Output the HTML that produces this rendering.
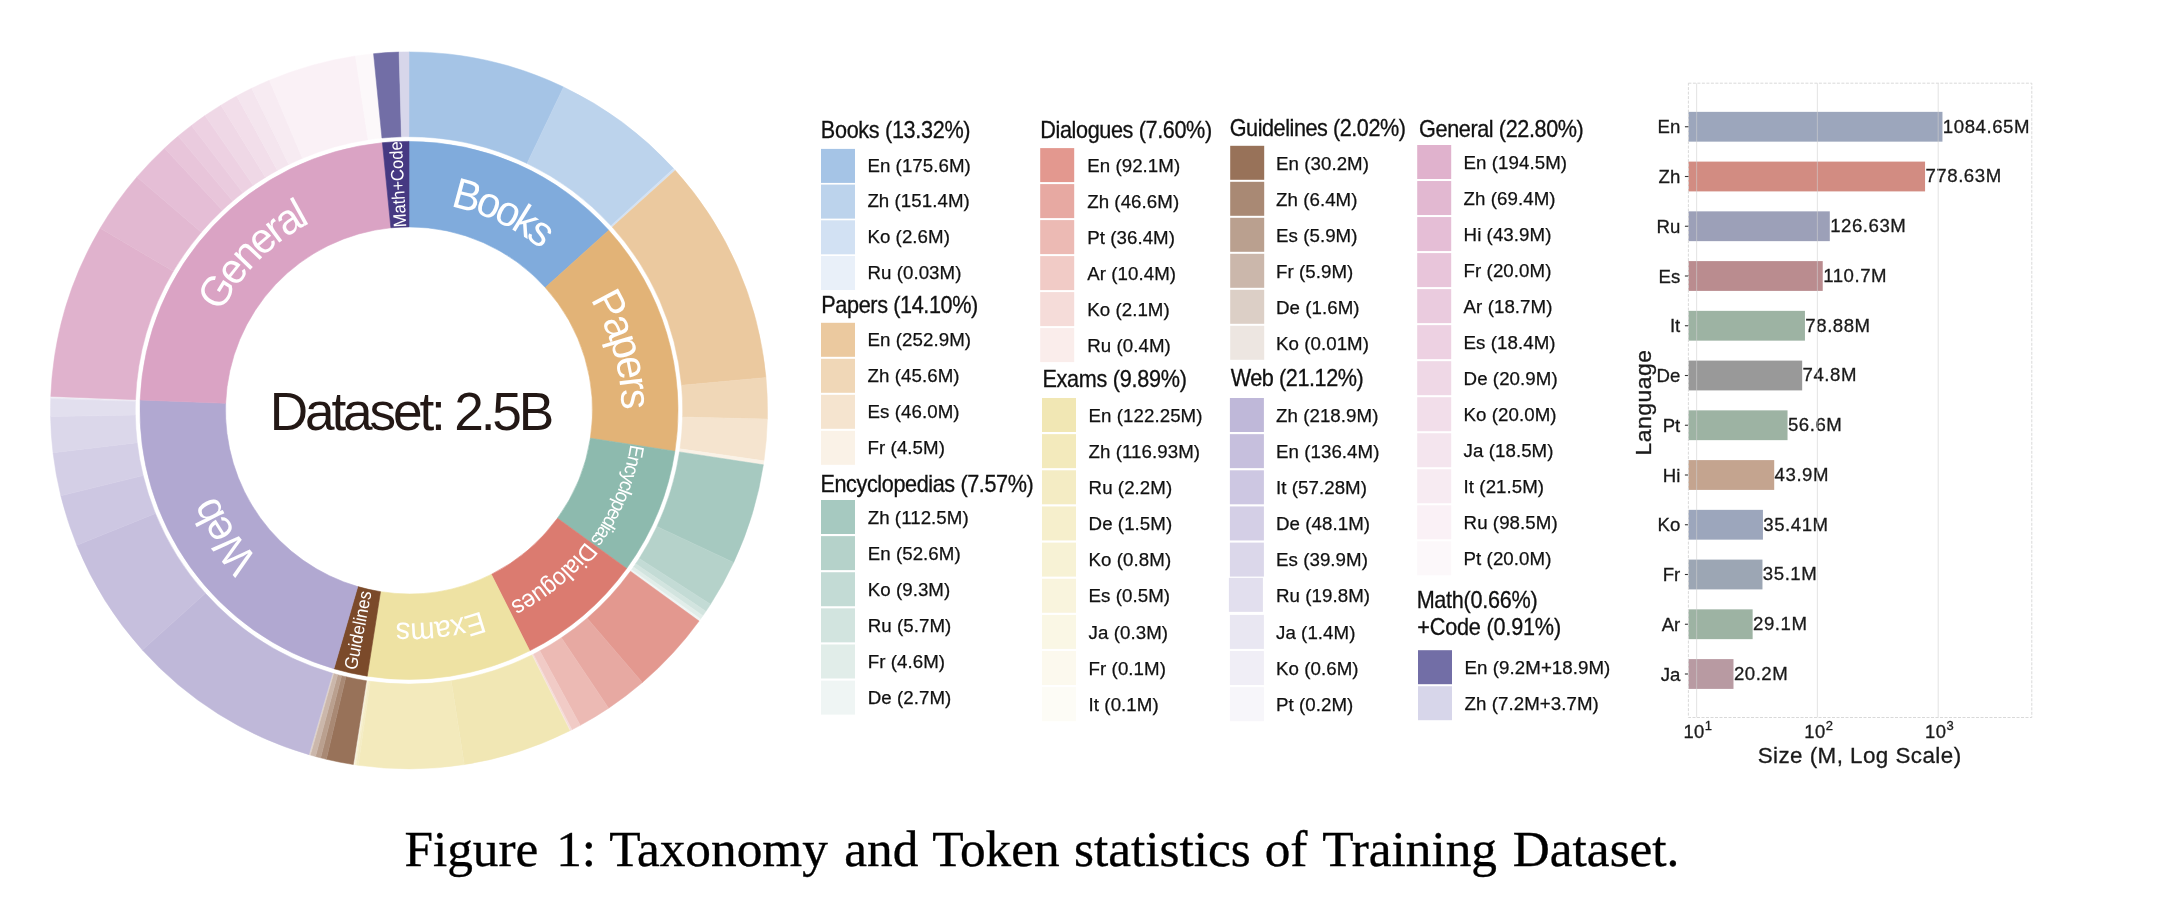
<!DOCTYPE html>
<html><head><meta charset="utf-8"><title>Figure 1</title>
<style>html,body{margin:0;padding:0;background:#fff}svg{display:block;will-change:transform}text{font-family:"Liberation Sans",sans-serif}</style>
</head><body>
<svg width="2167" height="901" viewBox="0 0 2167 901">
<rect width="2167" height="901" fill="#fff"/>
<path d="M409.00,141.40A269.0,269.0 0 0 1 608.76,230.24L545.27,287.50A183.5,183.5 0 0 0 409.00,226.90Z" fill="#80ABDC" stroke="#80ABDC" stroke-width="0.6"/>
<path d="M409.00,51.90A358.5,358.5 0 0 1 563.60,86.95L527.03,163.46A273.7,273.7 0 0 0 409.00,136.70Z" fill="#A5C4E6" stroke="#A5C4E6" stroke-width="0.5"/>
<path d="M563.60,86.95A358.5,358.5 0 0 1 673.62,168.53L611.02,225.74A273.7,273.7 0 0 0 527.03,163.46Z" fill="#BCD3EC" stroke="#BCD3EC" stroke-width="0.5"/>
<path d="M673.62,168.53A358.5,358.5 0 0 1 675.21,170.28L612.24,227.08A273.7,273.7 0 0 0 611.02,225.74Z" fill="#D2E1F3" stroke="#D2E1F3" stroke-width="0.5"/>
<path d="M675.21,170.28A358.5,358.5 0 0 1 675.22,170.30L612.25,227.10A273.7,273.7 0 0 0 612.24,227.08Z" fill="#E9F0F9" stroke="#E9F0F9" stroke-width="0.5"/>
<path d="M608.76,230.24A269.0,269.0 0 0 1 674.89,451.21L590.38,438.24A183.5,183.5 0 0 0 545.27,287.50Z" fill="#E2B377" stroke="#E2B377" stroke-width="0.6"/>
<path d="M675.22,170.30A358.5,358.5 0 0 1 765.99,377.57L681.55,385.33A273.7,273.7 0 0 0 612.25,227.10Z" fill="#EBC99F" stroke="#EBC99F" stroke-width="0.5"/>
<path d="M765.99,377.57A358.5,358.5 0 0 1 767.40,419.03L682.62,416.99A273.7,273.7 0 0 0 681.55,385.33Z" fill="#F0D7B7" stroke="#F0D7B7" stroke-width="0.5"/>
<path d="M767.40,419.03A358.5,358.5 0 0 1 763.95,460.73L679.99,448.83A273.7,273.7 0 0 0 682.62,416.99Z" fill="#F5E4CF" stroke="#F5E4CF" stroke-width="0.5"/>
<path d="M763.95,460.73A358.5,358.5 0 0 1 763.35,464.79L679.53,451.92A273.7,273.7 0 0 0 679.99,448.83Z" fill="#FAF2E7" stroke="#FAF2E7" stroke-width="0.5"/>
<path d="M674.89,451.21A269.0,269.0 0 0 1 626.66,568.47L557.48,518.23A183.5,183.5 0 0 0 590.38,438.24Z" fill="#8DBAAE" stroke="#8DBAAE" stroke-width="0.6"/>
<path d="M763.35,464.79A358.5,358.5 0 0 1 733.67,562.43L656.87,526.47A273.7,273.7 0 0 0 679.53,451.92Z" fill="#A6C9C0" stroke="#A6C9C0" stroke-width="0.5"/>
<path d="M733.67,562.43A358.5,358.5 0 0 1 710.53,604.31L639.21,558.44A273.7,273.7 0 0 0 656.87,526.47Z" fill="#B5D2CA" stroke="#B5D2CA" stroke-width="0.5"/>
<path d="M710.53,604.31A358.5,358.5 0 0 1 705.87,611.37L635.65,563.84A273.7,273.7 0 0 0 639.21,558.44Z" fill="#C3DBD5" stroke="#C3DBD5" stroke-width="0.5"/>
<path d="M705.87,611.37A358.5,358.5 0 0 1 702.93,615.65L633.40,567.10A273.7,273.7 0 0 0 635.65,563.84Z" fill="#D2E4DF" stroke="#D2E4DF" stroke-width="0.5"/>
<path d="M702.93,615.65A358.5,358.5 0 0 1 700.51,619.07L631.56,569.71A273.7,273.7 0 0 0 633.40,567.10Z" fill="#E1EDE9" stroke="#E1EDE9" stroke-width="0.5"/>
<path d="M700.51,619.07A358.5,358.5 0 0 1 699.08,621.06L630.46,571.23A273.7,273.7 0 0 0 631.56,569.71Z" fill="#EFF5F4" stroke="#EFF5F4" stroke-width="0.5"/>
<path d="M626.66,568.47A269.0,269.0 0 0 1 529.71,650.80L491.34,574.39A183.5,183.5 0 0 0 557.48,518.23Z" fill="#DB7B70" stroke="#DB7B70" stroke-width="0.6"/>
<path d="M699.08,621.06A358.5,358.5 0 0 1 642.36,682.55L587.16,618.17A273.7,273.7 0 0 0 630.46,571.23Z" fill="#E3988F" stroke="#E3988F" stroke-width="0.5"/>
<path d="M642.36,682.55A358.5,358.5 0 0 1 608.61,708.19L561.39,637.75A273.7,273.7 0 0 0 587.16,618.17Z" fill="#E7A9A2" stroke="#E7A9A2" stroke-width="0.5"/>
<path d="M608.61,708.19A358.5,358.5 0 0 1 580.27,725.34L539.76,650.84A273.7,273.7 0 0 0 561.39,637.75Z" fill="#ECBAB4" stroke="#ECBAB4" stroke-width="0.5"/>
<path d="M580.27,725.34A358.5,358.5 0 0 1 571.90,729.75L533.37,654.21A273.7,273.7 0 0 0 539.76,650.84Z" fill="#F1CBC6" stroke="#F1CBC6" stroke-width="0.5"/>
<path d="M571.90,729.75A358.5,358.5 0 0 1 570.19,730.62L532.06,654.87A273.7,273.7 0 0 0 533.37,654.21Z" fill="#F5DCD9" stroke="#F5DCD9" stroke-width="0.5"/>
<path d="M570.19,730.62A358.5,358.5 0 0 1 569.87,730.78L531.82,655.00A273.7,273.7 0 0 0 532.06,654.87Z" fill="#FAEDEB" stroke="#FAEDEB" stroke-width="0.5"/>
<path d="M529.71,650.80A269.0,269.0 0 0 1 367.23,676.14L380.50,591.67A183.5,183.5 0 0 0 491.34,574.39Z" fill="#EEE2A3" stroke="#EEE2A3" stroke-width="0.6"/>
<path d="M569.87,730.78A358.5,358.5 0 0 1 464.32,764.61L451.24,680.82A273.7,273.7 0 0 0 531.82,655.00Z" fill="#F1E7B4" stroke="#F1E7B4" stroke-width="0.5"/>
<path d="M464.32,764.61A358.5,358.5 0 0 1 358.28,765.29L370.28,681.35A273.7,273.7 0 0 0 451.24,680.82Z" fill="#F3EABC" stroke="#F3EABC" stroke-width="0.5"/>
<path d="M358.28,765.29A358.5,358.5 0 0 1 356.30,765.00L368.76,681.13A273.7,273.7 0 0 0 370.28,681.35Z" fill="#F4ECC4" stroke="#F4ECC4" stroke-width="0.5"/>
<path d="M356.30,765.00A358.5,358.5 0 0 1 354.95,764.80L367.73,680.97A273.7,273.7 0 0 0 368.76,681.13Z" fill="#F6EFCC" stroke="#F6EFCC" stroke-width="0.5"/>
<path d="M354.95,764.80A358.5,358.5 0 0 1 354.23,764.69L367.18,680.89A273.7,273.7 0 0 0 367.73,680.97Z" fill="#F7F2D5" stroke="#F7F2D5" stroke-width="0.5"/>
<path d="M354.23,764.69A358.5,358.5 0 0 1 353.78,764.62L366.84,680.83A273.7,273.7 0 0 0 367.18,680.89Z" fill="#F9F4DD" stroke="#F9F4DD" stroke-width="0.5"/>
<path d="M353.78,764.62A358.5,358.5 0 0 1 353.51,764.58L366.63,680.80A273.7,273.7 0 0 0 366.84,680.83Z" fill="#FAF7E5" stroke="#FAF7E5" stroke-width="0.5"/>
<path d="M353.51,764.58A358.5,358.5 0 0 1 353.42,764.56L366.56,680.79A273.7,273.7 0 0 0 366.63,680.80Z" fill="#FCF9EE" stroke="#FCF9EE" stroke-width="0.5"/>
<path d="M353.42,764.56A358.5,358.5 0 0 1 353.33,764.55L366.50,680.78A273.7,273.7 0 0 0 366.56,680.79Z" fill="#FDFCF6" stroke="#FDFCF6" stroke-width="0.5"/>
<path d="M367.23,676.14A269.0,269.0 0 0 1 333.91,668.71L357.78,586.61A183.5,183.5 0 0 0 380.50,591.67Z" fill="#7B4A2A" stroke="#7B4A2A" stroke-width="0.6"/>
<path d="M353.33,764.55A358.5,358.5 0 0 1 326.36,759.25L345.91,676.73A273.7,273.7 0 0 0 366.50,680.78Z" fill="#987259" stroke="#987259" stroke-width="0.5"/>
<path d="M326.36,759.25A358.5,358.5 0 0 1 320.70,757.86L341.59,675.67A273.7,273.7 0 0 0 345.91,676.73Z" fill="#A98974" stroke="#A98974" stroke-width="0.5"/>
<path d="M320.70,757.86A358.5,358.5 0 0 1 315.51,756.49L337.62,674.63A273.7,273.7 0 0 0 341.59,675.67Z" fill="#BAA08F" stroke="#BAA08F" stroke-width="0.5"/>
<path d="M315.51,756.49A358.5,358.5 0 0 1 310.33,755.06L333.67,673.53A273.7,273.7 0 0 0 337.62,674.63Z" fill="#CBB7AB" stroke="#CBB7AB" stroke-width="0.5"/>
<path d="M310.33,755.06A358.5,358.5 0 0 1 308.94,754.65L332.60,673.22A273.7,273.7 0 0 0 333.67,673.53Z" fill="#DCCFC6" stroke="#DCCFC6" stroke-width="0.5"/>
<path d="M308.94,754.65A358.5,358.5 0 0 1 308.93,754.65L332.60,673.22A273.7,273.7 0 0 0 332.60,673.22Z" fill="#EDE6E1" stroke="#EDE6E1" stroke-width="0.5"/>
<path d="M333.91,668.71A269.0,269.0 0 0 1 140.20,399.92L225.64,403.25A183.5,183.5 0 0 0 357.78,586.61Z" fill="#B1A8D1" stroke="#B1A8D1" stroke-width="0.6"/>
<path d="M308.93,754.65A358.5,358.5 0 0 1 142.36,650.03L205.43,593.35A273.7,273.7 0 0 0 332.60,673.22Z" fill="#BFB8D9" stroke="#BFB8D9" stroke-width="0.5"/>
<path d="M142.36,650.03A358.5,358.5 0 0 1 76.85,545.29L155.41,513.38A273.7,273.7 0 0 0 205.43,593.35Z" fill="#C6BFDD" stroke="#C6BFDD" stroke-width="0.5"/>
<path d="M76.85,545.29A358.5,358.5 0 0 1 60.80,495.73L143.17,475.55A273.7,273.7 0 0 0 155.41,513.38Z" fill="#CDC7E2" stroke="#CDC7E2" stroke-width="0.5"/>
<path d="M60.80,495.73A358.5,358.5 0 0 1 53.00,452.67L137.21,442.67A273.7,273.7 0 0 0 143.17,475.55Z" fill="#D4CFE6" stroke="#D4CFE6" stroke-width="0.5"/>
<path d="M53.00,452.67A358.5,358.5 0 0 1 50.55,416.45L135.34,415.02A273.7,273.7 0 0 0 137.21,442.67Z" fill="#DBD7EA" stroke="#DBD7EA" stroke-width="0.5"/>
<path d="M50.55,416.45A358.5,358.5 0 0 1 50.70,398.43L135.45,401.26A273.7,273.7 0 0 0 135.34,415.02Z" fill="#E2DFEE" stroke="#E2DFEE" stroke-width="0.5"/>
<path d="M50.70,398.43A358.5,358.5 0 0 1 50.74,397.16L135.49,400.29A273.7,273.7 0 0 0 135.45,401.26Z" fill="#E9E7F2" stroke="#E9E7F2" stroke-width="0.5"/>
<path d="M50.74,397.16A358.5,358.5 0 0 1 50.77,396.61L135.50,399.87A273.7,273.7 0 0 0 135.49,400.29Z" fill="#F0EEF6" stroke="#F0EEF6" stroke-width="0.5"/>
<path d="M50.77,396.61A358.5,358.5 0 0 1 50.77,396.43L135.51,399.74A273.7,273.7 0 0 0 135.50,399.87Z" fill="#F7F6FA" stroke="#F7F6FA" stroke-width="0.5"/>
<path d="M140.20,399.92A269.0,269.0 0 0 1 382.41,142.72L390.86,227.80A183.5,183.5 0 0 0 225.64,403.25Z" fill="#DAA3C4" stroke="#DAA3C4" stroke-width="0.6"/>
<path d="M50.77,396.43A358.5,358.5 0 0 1 100.20,228.29L173.24,271.37A273.7,273.7 0 0 0 135.51,399.74Z" fill="#E0B2CD" stroke="#E0B2CD" stroke-width="0.5"/>
<path d="M100.20,228.29A358.5,358.5 0 0 1 136.90,176.98L201.26,232.19A273.7,273.7 0 0 0 173.24,271.37Z" fill="#E2B8D1" stroke="#E2B8D1" stroke-width="0.5"/>
<path d="M136.90,176.98A358.5,358.5 0 0 1 164.56,148.16L222.38,210.19A273.7,273.7 0 0 0 201.26,232.19Z" fill="#E5BED6" stroke="#E5BED6" stroke-width="0.5"/>
<path d="M164.56,148.16A358.5,358.5 0 0 1 178.18,136.09L232.78,200.98A273.7,273.7 0 0 0 222.38,210.19Z" fill="#E8C5DA" stroke="#E8C5DA" stroke-width="0.5"/>
<path d="M178.18,136.09A358.5,358.5 0 0 1 191.46,125.45L242.92,192.85A273.7,273.7 0 0 0 232.78,200.98Z" fill="#EACBDE" stroke="#EACBDE" stroke-width="0.5"/>
<path d="M191.46,125.45A358.5,358.5 0 0 1 205.01,115.60L253.26,185.33A273.7,273.7 0 0 0 242.92,192.85Z" fill="#EDD1E2" stroke="#EDD1E2" stroke-width="0.5"/>
<path d="M205.01,115.60A358.5,358.5 0 0 1 220.93,105.19L265.42,177.39A273.7,273.7 0 0 0 253.26,185.33Z" fill="#EFD8E6" stroke="#EFD8E6" stroke-width="0.5"/>
<path d="M220.93,105.19A358.5,358.5 0 0 1 236.66,96.04L277.43,170.40A273.7,273.7 0 0 0 265.42,177.39Z" fill="#F2DEEA" stroke="#F2DEEA" stroke-width="0.5"/>
<path d="M236.66,96.04A358.5,358.5 0 0 1 251.62,88.29L288.84,164.49A273.7,273.7 0 0 0 277.43,170.40Z" fill="#F4E5EE" stroke="#F4E5EE" stroke-width="0.5"/>
<path d="M251.62,88.29A358.5,358.5 0 0 1 269.43,80.19L302.44,158.30A273.7,273.7 0 0 0 288.84,164.49Z" fill="#F7EBF2" stroke="#F7EBF2" stroke-width="0.5"/>
<path d="M269.43,80.19A358.5,358.5 0 0 1 355.50,55.92L368.15,139.77A273.7,273.7 0 0 0 302.44,158.30Z" fill="#FAF1F6" stroke="#FAF1F6" stroke-width="0.5"/>
<path d="M355.50,55.92A358.5,358.5 0 0 1 373.56,53.66L381.94,138.04A273.7,273.7 0 0 0 368.15,139.77Z" fill="#FCF8FA" stroke="#FCF8FA" stroke-width="0.5"/>
<path d="M382.41,142.72A269.0,269.0 0 0 1 409.00,141.40L409.00,226.90A183.5,183.5 0 0 0 390.86,227.80Z" fill="#463982" stroke="#463982" stroke-width="0.6"/>
<path d="M373.56,53.66A358.5,358.5 0 0 1 399.08,52.04L401.43,136.80A273.7,273.7 0 0 0 381.94,138.04Z" fill="#726EA6" stroke="#726EA6" stroke-width="0.5"/>
<path d="M399.08,52.04A358.5,358.5 0 0 1 409.00,51.90L409.00,136.70A273.7,273.7 0 0 0 401.43,136.80Z" fill="#D7D6EA" stroke="#D7D6EA" stroke-width="0.5"/>
<text transform="translate(463.60,209.38) rotate(15.19) scale(0.97,1)" font-size="42.6" text-anchor="middle" fill="#fff">B</text>
<text transform="translate(484.53,216.28) rotate(21.26) scale(0.97,1)" font-size="42.6" text-anchor="middle" fill="#fff">o</text>
<text transform="translate(502.59,224.31) rotate(26.70) scale(0.97,1)" font-size="42.6" text-anchor="middle" fill="#fff">o</text>
<text transform="translate(518.81,233.40) rotate(31.81) scale(0.97,1)" font-size="42.6" text-anchor="middle" fill="#fff">k</text>
<text transform="translate(533.23,243.20) rotate(36.61) scale(0.97,1)" font-size="42.6" text-anchor="middle" fill="#fff">s</text>
<text transform="translate(596.98,311.31) rotate(62.21) scale(0.96,1)" font-size="42.6" text-anchor="middle" fill="#fff">P</text>
<text transform="translate(606.34,331.57) rotate(68.22) scale(0.96,1)" font-size="42.6" text-anchor="middle" fill="#fff">a</text>
<text transform="translate(612.89,350.52) rotate(73.63) scale(0.96,1)" font-size="42.6" text-anchor="middle" fill="#fff">p</text>
<text transform="translate(617.62,370.00) rotate(79.04) scale(0.96,1)" font-size="42.6" text-anchor="middle" fill="#fff">e</text>
<text transform="translate(620.01,385.30) rotate(83.22) scale(0.96,1)" font-size="42.6" text-anchor="middle" fill="#fff">r</text>
<text transform="translate(621.22,399.59) rotate(87.08) scale(0.96,1)" font-size="42.6" text-anchor="middle" fill="#fff">s</text>
<text transform="translate(629.29,450.28) rotate(100.26) scale(0.92,1)" font-size="20.3" text-anchor="middle" fill="#fff">E</text>
<text transform="translate(627.18,460.24) rotate(102.87) scale(0.92,1)" font-size="20.3" text-anchor="middle" fill="#fff">n</text>
<text transform="translate(625.04,468.60) rotate(105.08) scale(0.92,1)" font-size="20.3" text-anchor="middle" fill="#fff">c</text>
<text transform="translate(622.74,476.36) rotate(107.15) scale(0.92,1)" font-size="20.3" text-anchor="middle" fill="#fff">y</text>
<text transform="translate(620.16,484.03) rotate(109.22) scale(0.92,1)" font-size="20.3" text-anchor="middle" fill="#fff">c</text>
<text transform="translate(618.25,489.19) rotate(110.63) scale(0.92,1)" font-size="20.3" text-anchor="middle" fill="#fff">l</text>
<text transform="translate(616.02,494.78) rotate(112.17) scale(0.92,1)" font-size="20.3" text-anchor="middle" fill="#fff">o</text>
<text transform="translate(612.34,503.14) rotate(114.52) scale(0.92,1)" font-size="20.3" text-anchor="middle" fill="#fff">p</text>
<text transform="translate(608.32,511.34) rotate(116.86) scale(0.92,1)" font-size="20.3" text-anchor="middle" fill="#fff">e</text>
<text transform="translate(603.98,519.38) rotate(119.20) scale(0.92,1)" font-size="20.3" text-anchor="middle" fill="#fff">d</text>
<text transform="translate(600.94,524.57) rotate(120.74) scale(0.92,1)" font-size="20.3" text-anchor="middle" fill="#fff">i</text>
<text transform="translate(597.76,529.67) rotate(122.29) scale(0.92,1)" font-size="20.3" text-anchor="middle" fill="#fff">a</text>
<text transform="translate(592.98,536.82) rotate(124.49) scale(0.92,1)" font-size="20.3" text-anchor="middle" fill="#fff">s</text>
<text transform="translate(580.48,548.06) rotate(128.76) scale(0.94,1)" font-size="24.5" text-anchor="middle" fill="#fff">D</text>
<text transform="translate(573.53,555.82) rotate(131.47) scale(0.94,1)" font-size="24.5" text-anchor="middle" fill="#fff">i</text>
<text transform="translate(567.60,561.89) rotate(133.69) scale(0.94,1)" font-size="24.5" text-anchor="middle" fill="#fff">a</text>
<text transform="translate(561.45,567.72) rotate(135.90) scale(0.94,1)" font-size="24.5" text-anchor="middle" fill="#fff">l</text>
<text transform="translate(555.09,573.30) rotate(138.11) scale(0.94,1)" font-size="24.5" text-anchor="middle" fill="#fff">o</text>
<text transform="translate(545.47,580.97) rotate(141.34) scale(0.94,1)" font-size="24.5" text-anchor="middle" fill="#fff">g</text>
<text transform="translate(535.45,588.06) rotate(144.56) scale(0.94,1)" font-size="24.5" text-anchor="middle" fill="#fff">u</text>
<text transform="translate(525.07,594.58) rotate(147.78) scale(0.94,1)" font-size="24.5" text-anchor="middle" fill="#fff">e</text>
<text transform="translate(514.93,600.19) rotate(150.83) scale(0.94,1)" font-size="24.5" text-anchor="middle" fill="#fff">s</text>
<text transform="translate(472.19,614.23) rotate(162.78) scale(0.96,1)" font-size="30.5" text-anchor="middle" fill="#fff">E</text>
<text transform="translate(456.25,618.28) rotate(167.20) scale(0.96,1)" font-size="30.5" text-anchor="middle" fill="#fff">x</text>
<text transform="translate(441.67,620.87) rotate(171.18) scale(0.96,1)" font-size="30.5" text-anchor="middle" fill="#fff">a</text>
<text transform="translate(422.09,622.73) rotate(176.47) scale(0.96,1)" font-size="30.5" text-anchor="middle" fill="#fff">m</text>
<text transform="translate(403.27,622.80) rotate(181.55) scale(0.96,1)" font-size="30.5" text-anchor="middle" fill="#fff">s</text>
<text transform="translate(245.72,544.52) rotate(230.60) scale(0.96,1)" font-size="42.6" text-anchor="middle" fill="#fff">W</text>
<text transform="translate(229.80,522.36) rotate(238.01) scale(0.96,1)" font-size="42.6" text-anchor="middle" fill="#fff">e</text>
<text transform="translate(220.30,505.47) rotate(243.26) scale(0.96,1)" font-size="42.6" text-anchor="middle" fill="#fff">b</text>
<text transform="translate(228.76,298.79) rotate(301.77) scale(0.96,1)" font-size="42.6" text-anchor="middle" fill="#fff">G</text>
<text transform="translate(242.85,278.72) rotate(308.40) scale(0.96,1)" font-size="42.6" text-anchor="middle" fill="#fff">e</text>
<text transform="translate(256.00,263.66) rotate(313.80) scale(0.96,1)" font-size="42.6" text-anchor="middle" fill="#fff">n</text>
<text transform="translate(270.50,249.89) rotate(319.21) scale(0.96,1)" font-size="42.6" text-anchor="middle" fill="#fff">e</text>
<text transform="translate(282.55,240.24) rotate(323.38) scale(0.96,1)" font-size="42.6" text-anchor="middle" fill="#fff">r</text>
<text transform="translate(295.26,231.49) rotate(327.55) scale(0.96,1)" font-size="42.6" text-anchor="middle" fill="#fff">a</text>
<text transform="translate(306.59,224.78) rotate(331.11) scale(0.96,1)" font-size="42.6" text-anchor="middle" fill="#fff">l</text>
<text transform="translate(358.74,630.33) rotate(280.87) scale(0.92,1)" font-size="18.4" letter-spacing="0" text-anchor="middle" fill="#fff" y="5.5">Guidelines</text>
<text transform="translate(397.80,184.38) rotate(267.16) scale(0.92,1)" font-size="18" letter-spacing="0" text-anchor="middle" fill="#fff" y="6.2">Math+Code</text>
<text x="269.8" y="430.0" font-size="53.2" letter-spacing="-3.15" fill="#231815">Dataset: 2.5B</text>
<text transform="translate(820.83,137.7) scale(0.94,1)" font-size="23.0" letter-spacing="-0.336" fill="#111" stroke="#111" stroke-width="0.3">Books (13.32%)</text>
<rect x="821.0" y="148.90" width="34" height="34" fill="#A5C4E6"/>
<text x="867.4" y="171.70" font-size="18.7" letter-spacing="0.06" fill="#111" stroke="#111" stroke-width="0.25">En (175.6M)</text>
<rect x="821.0" y="184.60" width="34" height="34" fill="#BCD3EC"/>
<text x="867.4" y="207.40" font-size="18.7" letter-spacing="0.06" fill="#111" stroke="#111" stroke-width="0.25">Zh (151.4M)</text>
<rect x="821.0" y="220.30" width="34" height="34" fill="#D2E1F3"/>
<text x="867.4" y="243.10" font-size="18.7" letter-spacing="0.06" fill="#111" stroke="#111" stroke-width="0.25">Ko (2.6M)</text>
<rect x="821.0" y="256.00" width="34" height="34" fill="#E9F0F9"/>
<text x="867.4" y="278.80" font-size="18.7" letter-spacing="0.06" fill="#111" stroke="#111" stroke-width="0.25">Ru (0.03M)</text>
<text transform="translate(821.33,313.0) scale(0.94,1)" font-size="23.0" letter-spacing="-0.397" fill="#111" stroke="#111" stroke-width="0.3">Papers (14.10%)</text>
<rect x="821.0" y="322.80" width="34" height="34" fill="#EBC99F"/>
<text x="867.6" y="345.70" font-size="18.7" letter-spacing="0.06" fill="#111" stroke="#111" stroke-width="0.25">En (252.9M)</text>
<rect x="821.0" y="358.80" width="34" height="34" fill="#F0D7B7"/>
<text x="867.6" y="381.70" font-size="18.7" letter-spacing="0.06" fill="#111" stroke="#111" stroke-width="0.25">Zh (45.6M)</text>
<rect x="821.0" y="394.80" width="34" height="34" fill="#F5E4CF"/>
<text x="867.6" y="417.70" font-size="18.7" letter-spacing="0.06" fill="#111" stroke="#111" stroke-width="0.25">Es (46.0M)</text>
<rect x="821.0" y="430.80" width="34" height="34" fill="#FAF2E7"/>
<text x="867.6" y="453.70" font-size="18.7" letter-spacing="0.06" fill="#111" stroke="#111" stroke-width="0.25">Fr (4.5M)</text>
<text transform="translate(820.43,491.6) scale(0.94,1)" font-size="23.0" letter-spacing="-0.410" fill="#111" stroke="#111" stroke-width="0.3">Encyclopedias (7.57%)</text>
<rect x="821.0" y="500.00" width="34" height="34" fill="#A6C9C0"/>
<text x="867.7" y="523.80" font-size="18.7" letter-spacing="0.06" fill="#111" stroke="#111" stroke-width="0.25">Zh (112.5M)</text>
<rect x="821.0" y="536.12" width="34" height="34" fill="#B5D2CA"/>
<text x="867.7" y="559.92" font-size="18.7" letter-spacing="0.06" fill="#111" stroke="#111" stroke-width="0.25">En (52.6M)</text>
<rect x="821.0" y="572.24" width="34" height="34" fill="#C3DBD5"/>
<text x="867.7" y="596.04" font-size="18.7" letter-spacing="0.06" fill="#111" stroke="#111" stroke-width="0.25">Ko (9.3M)</text>
<rect x="821.0" y="608.36" width="34" height="34" fill="#D2E4DF"/>
<text x="867.7" y="632.16" font-size="18.7" letter-spacing="0.06" fill="#111" stroke="#111" stroke-width="0.25">Ru (5.7M)</text>
<rect x="821.0" y="644.48" width="34" height="34" fill="#E1EDE9"/>
<text x="867.7" y="668.28" font-size="18.7" letter-spacing="0.06" fill="#111" stroke="#111" stroke-width="0.25">Fr (4.6M)</text>
<rect x="821.0" y="680.60" width="34" height="34" fill="#EFF5F4"/>
<text x="867.7" y="704.40" font-size="18.7" letter-spacing="0.06" fill="#111" stroke="#111" stroke-width="0.25">De (2.7M)</text>
<text transform="translate(1040.23,137.7) scale(0.94,1)" font-size="23.0" letter-spacing="-0.389" fill="#111" stroke="#111" stroke-width="0.3">Dialogues (7.60%)</text>
<rect x="1040.2" y="148.10" width="34" height="34" fill="#E3988F"/>
<text x="1087.2" y="171.60" font-size="18.7" letter-spacing="0.06" fill="#111" stroke="#111" stroke-width="0.25">En (92.1M)</text>
<rect x="1040.2" y="184.10" width="34" height="34" fill="#E7A9A2"/>
<text x="1087.2" y="207.60" font-size="18.7" letter-spacing="0.06" fill="#111" stroke="#111" stroke-width="0.25">Zh (46.6M)</text>
<rect x="1040.2" y="220.10" width="34" height="34" fill="#ECBAB4"/>
<text x="1087.2" y="243.60" font-size="18.7" letter-spacing="0.06" fill="#111" stroke="#111" stroke-width="0.25">Pt (36.4M)</text>
<rect x="1040.2" y="256.10" width="34" height="34" fill="#F1CBC6"/>
<text x="1087.2" y="279.60" font-size="18.7" letter-spacing="0.06" fill="#111" stroke="#111" stroke-width="0.25">Ar (10.4M)</text>
<rect x="1040.2" y="292.10" width="34" height="34" fill="#F5DCD9"/>
<text x="1087.2" y="315.60" font-size="18.7" letter-spacing="0.06" fill="#111" stroke="#111" stroke-width="0.25">Ko (2.1M)</text>
<rect x="1040.2" y="328.10" width="34" height="34" fill="#FAEDEB"/>
<text x="1087.2" y="351.60" font-size="18.7" letter-spacing="0.06" fill="#111" stroke="#111" stroke-width="0.25">Ru (0.4M)</text>
<text transform="translate(1042.43,387.0) scale(0.94,1)" font-size="23.0" letter-spacing="-0.290" fill="#111" stroke="#111" stroke-width="0.3">Exams (9.89%)</text>
<rect x="1042.0" y="398.00" width="34" height="34" fill="#F1E7B4"/>
<text x="1088.6" y="421.70" font-size="18.7" letter-spacing="0.06" fill="#111" stroke="#111" stroke-width="0.25">En (122.25M)</text>
<rect x="1042.0" y="434.15" width="34" height="34" fill="#F3EABC"/>
<text x="1088.6" y="457.85" font-size="18.7" letter-spacing="0.06" fill="#111" stroke="#111" stroke-width="0.25">Zh (116.93M)</text>
<rect x="1042.0" y="470.30" width="34" height="34" fill="#F4ECC4"/>
<text x="1088.6" y="494.00" font-size="18.7" letter-spacing="0.06" fill="#111" stroke="#111" stroke-width="0.25">Ru (2.2M)</text>
<rect x="1042.0" y="506.45" width="34" height="34" fill="#F6EFCC"/>
<text x="1088.6" y="530.15" font-size="18.7" letter-spacing="0.06" fill="#111" stroke="#111" stroke-width="0.25">De (1.5M)</text>
<rect x="1042.0" y="542.60" width="34" height="34" fill="#F7F2D5"/>
<text x="1088.6" y="566.30" font-size="18.7" letter-spacing="0.06" fill="#111" stroke="#111" stroke-width="0.25">Ko (0.8M)</text>
<rect x="1042.0" y="578.75" width="34" height="34" fill="#F9F4DD"/>
<text x="1088.6" y="602.45" font-size="18.7" letter-spacing="0.06" fill="#111" stroke="#111" stroke-width="0.25">Es (0.5M)</text>
<rect x="1042.0" y="614.90" width="34" height="34" fill="#FAF7E5"/>
<text x="1088.6" y="638.60" font-size="18.7" letter-spacing="0.06" fill="#111" stroke="#111" stroke-width="0.25">Ja (0.3M)</text>
<rect x="1042.0" y="651.05" width="34" height="34" fill="#FCF9EE"/>
<text x="1088.6" y="674.75" font-size="18.7" letter-spacing="0.06" fill="#111" stroke="#111" stroke-width="0.25">Fr (0.1M)</text>
<rect x="1042.0" y="687.20" width="34" height="34" fill="#FDFCF6"/>
<text x="1088.6" y="710.90" font-size="18.7" letter-spacing="0.06" fill="#111" stroke="#111" stroke-width="0.25">It (0.1M)</text>
<text transform="translate(1229.71,136.4) scale(0.94,1)" font-size="23.0" letter-spacing="-0.472" fill="#111" stroke="#111" stroke-width="0.3">Guidelines (2.02%)</text>
<rect x="1230.2" y="145.80" width="34" height="34" fill="#987259"/>
<text x="1276.0" y="169.50" font-size="18.7" letter-spacing="0.06" fill="#111" stroke="#111" stroke-width="0.25">En (30.2M)</text>
<rect x="1230.2" y="181.80" width="34" height="34" fill="#A98974"/>
<text x="1276.0" y="205.50" font-size="18.7" letter-spacing="0.06" fill="#111" stroke="#111" stroke-width="0.25">Zh (6.4M)</text>
<rect x="1230.2" y="217.80" width="34" height="34" fill="#BAA08F"/>
<text x="1276.0" y="241.50" font-size="18.7" letter-spacing="0.06" fill="#111" stroke="#111" stroke-width="0.25">Es (5.9M)</text>
<rect x="1230.2" y="253.80" width="34" height="34" fill="#CBB7AB"/>
<text x="1276.0" y="277.50" font-size="18.7" letter-spacing="0.06" fill="#111" stroke="#111" stroke-width="0.25">Fr (5.9M)</text>
<rect x="1230.2" y="289.80" width="34" height="34" fill="#DCCFC6"/>
<text x="1276.0" y="313.50" font-size="18.7" letter-spacing="0.06" fill="#111" stroke="#111" stroke-width="0.25">De (1.6M)</text>
<rect x="1230.2" y="325.80" width="34" height="34" fill="#EDE6E1"/>
<text x="1276.0" y="349.50" font-size="18.7" letter-spacing="0.06" fill="#111" stroke="#111" stroke-width="0.25">Ko (0.01M)</text>
<text transform="translate(1230.70,385.7) scale(0.94,1)" font-size="23.0" letter-spacing="-0.459" fill="#111" stroke="#111" stroke-width="0.3">Web (21.12%)</text>
<rect x="1229.9" y="398.00" width="34" height="34" fill="#BFB8D9"/>
<text x="1276.0" y="421.70" font-size="18.7" letter-spacing="0.06" fill="#111" stroke="#111" stroke-width="0.25">Zh (218.9M)</text>
<rect x="1229.9" y="434.15" width="34" height="34" fill="#C6BFDD"/>
<text x="1276.0" y="457.85" font-size="18.7" letter-spacing="0.06" fill="#111" stroke="#111" stroke-width="0.25">En (136.4M)</text>
<rect x="1229.9" y="470.30" width="34" height="34" fill="#CDC7E2"/>
<text x="1276.0" y="494.00" font-size="18.7" letter-spacing="0.06" fill="#111" stroke="#111" stroke-width="0.25">It (57.28M)</text>
<rect x="1229.9" y="506.45" width="34" height="34" fill="#D4CFE6"/>
<text x="1276.0" y="530.15" font-size="18.7" letter-spacing="0.06" fill="#111" stroke="#111" stroke-width="0.25">De (48.1M)</text>
<rect x="1229.9" y="542.60" width="34" height="34" fill="#DBD7EA"/>
<text x="1276.0" y="566.30" font-size="18.7" letter-spacing="0.06" fill="#111" stroke="#111" stroke-width="0.25">Es (39.9M)</text>
<rect x="1228.9" y="577.85" width="34" height="34" fill="#E2DFEE"/>
<text x="1276.0" y="601.55" font-size="18.7" letter-spacing="0.06" fill="#111" stroke="#111" stroke-width="0.25">Ru (19.8M)</text>
<rect x="1229.9" y="614.90" width="34" height="34" fill="#E9E7F2"/>
<text x="1276.0" y="638.60" font-size="18.7" letter-spacing="0.06" fill="#111" stroke="#111" stroke-width="0.25">Ja (1.4M)</text>
<rect x="1229.9" y="651.05" width="34" height="34" fill="#F0EEF6"/>
<text x="1276.0" y="674.75" font-size="18.7" letter-spacing="0.06" fill="#111" stroke="#111" stroke-width="0.25">Ko (0.6M)</text>
<rect x="1229.9" y="687.20" width="34" height="34" fill="#F7F6FA"/>
<text x="1276.0" y="710.90" font-size="18.7" letter-spacing="0.06" fill="#111" stroke="#111" stroke-width="0.25">Pt (0.2M)</text>
<text transform="translate(1419.11,136.6) scale(0.94,1)" font-size="23.0" letter-spacing="-0.420" fill="#111" stroke="#111" stroke-width="0.3">General (22.80%)</text>
<rect x="1417.2" y="145.00" width="34" height="34" fill="#E0B2CD"/>
<text x="1463.6" y="169.10" font-size="18.7" letter-spacing="0.06" fill="#111" stroke="#111" stroke-width="0.25">En (194.5M)</text>
<rect x="1417.2" y="181.03" width="34" height="34" fill="#E2B8D1"/>
<text x="1463.6" y="205.13" font-size="18.7" letter-spacing="0.06" fill="#111" stroke="#111" stroke-width="0.25">Zh (69.4M)</text>
<rect x="1417.2" y="217.06" width="34" height="34" fill="#E5BED6"/>
<text x="1463.6" y="241.16" font-size="18.7" letter-spacing="0.06" fill="#111" stroke="#111" stroke-width="0.25">Hi (43.9M)</text>
<rect x="1417.2" y="253.09" width="34" height="34" fill="#E8C5DA"/>
<text x="1463.6" y="277.19" font-size="18.7" letter-spacing="0.06" fill="#111" stroke="#111" stroke-width="0.25">Fr (20.0M)</text>
<rect x="1417.2" y="289.12" width="34" height="34" fill="#EACBDE"/>
<text x="1463.6" y="313.22" font-size="18.7" letter-spacing="0.06" fill="#111" stroke="#111" stroke-width="0.25">Ar (18.7M)</text>
<rect x="1417.2" y="325.15" width="34" height="34" fill="#EDD1E2"/>
<text x="1463.6" y="349.25" font-size="18.7" letter-spacing="0.06" fill="#111" stroke="#111" stroke-width="0.25">Es (18.4M)</text>
<rect x="1417.2" y="361.18" width="34" height="34" fill="#EFD8E6"/>
<text x="1463.6" y="385.28" font-size="18.7" letter-spacing="0.06" fill="#111" stroke="#111" stroke-width="0.25">De (20.9M)</text>
<rect x="1417.2" y="397.21" width="34" height="34" fill="#F2DEEA"/>
<text x="1463.6" y="421.31" font-size="18.7" letter-spacing="0.06" fill="#111" stroke="#111" stroke-width="0.25">Ko (20.0M)</text>
<rect x="1417.2" y="433.24" width="34" height="34" fill="#F4E5EE"/>
<text x="1463.6" y="457.34" font-size="18.7" letter-spacing="0.06" fill="#111" stroke="#111" stroke-width="0.25">Ja (18.5M)</text>
<rect x="1417.2" y="469.27" width="34" height="34" fill="#F7EBF2"/>
<text x="1463.6" y="493.37" font-size="18.7" letter-spacing="0.06" fill="#111" stroke="#111" stroke-width="0.25">It (21.5M)</text>
<rect x="1417.2" y="505.30" width="34" height="34" fill="#FAF1F6"/>
<text x="1463.6" y="529.40" font-size="18.7" letter-spacing="0.06" fill="#111" stroke="#111" stroke-width="0.25">Ru (98.5M)</text>
<rect x="1417.2" y="541.33" width="34" height="34" fill="#FCF8FA"/>
<text x="1463.6" y="565.43" font-size="18.7" letter-spacing="0.06" fill="#111" stroke="#111" stroke-width="0.25">Pt (20.0M)</text>
<text transform="translate(1416.63,608.1) scale(0.94,1)" font-size="23.0" letter-spacing="-0.293" fill="#111" stroke="#111" stroke-width="0.3">Math(0.66%)</text>
<text transform="translate(1417.34,635.2) scale(0.94,1)" font-size="23.0" letter-spacing="-0.197" fill="#111" stroke="#111" stroke-width="0.3">+Code (0.91%)</text>
<rect x="1418.0" y="650.20" width="34" height="34" fill="#726EA6"/>
<text x="1464.6" y="674.00" font-size="18.7" letter-spacing="0.06" fill="#111" stroke="#111" stroke-width="0.25">En (9.2M+18.9M)</text>
<rect x="1418.0" y="686.20" width="34" height="34" fill="#D7D6EA"/>
<text x="1464.6" y="710.00" font-size="18.7" letter-spacing="0.06" fill="#111" stroke="#111" stroke-width="0.25">Zh (7.2M+3.7M)</text>
<rect x="1688.4" y="111.85" width="254.06" height="29.8" fill="#9CA6BC"/>
<text x="1942.86" y="132.55" font-size="18.6" letter-spacing="0.55" fill="#1a1a1a" stroke="#1a1a1a" stroke-width="0.3">1084.65M</text>
<text x="1680.30" y="133.35" font-size="18.6" text-anchor="end" fill="#1a1a1a" stroke="#1a1a1a" stroke-width="0.3">En</text>
<line x1="1684.9" x2="1688.4" y1="126.75" y2="126.75" stroke="#333" stroke-width="1.1"/>
<rect x="1688.4" y="161.60" width="236.67" height="29.8" fill="#D28C82"/>
<text x="1925.47" y="182.30" font-size="18.6" letter-spacing="0.55" fill="#1a1a1a" stroke="#1a1a1a" stroke-width="0.3">778.63M</text>
<text x="1680.30" y="183.10" font-size="18.6" text-anchor="end" fill="#1a1a1a" stroke="#1a1a1a" stroke-width="0.3">Zh</text>
<line x1="1684.9" x2="1688.4" y1="176.50" y2="176.50" stroke="#333" stroke-width="1.1"/>
<rect x="1688.4" y="211.35" width="141.39" height="29.8" fill="#9CA0B8"/>
<text x="1830.19" y="232.05" font-size="18.6" letter-spacing="0.55" fill="#1a1a1a" stroke="#1a1a1a" stroke-width="0.3">126.63M</text>
<text x="1680.30" y="232.85" font-size="18.6" text-anchor="end" fill="#1a1a1a" stroke="#1a1a1a" stroke-width="0.3">Ru</text>
<line x1="1684.9" x2="1688.4" y1="226.25" y2="226.25" stroke="#333" stroke-width="1.1"/>
<rect x="1688.4" y="261.10" width="134.33" height="29.8" fill="#BA8C8F"/>
<text x="1823.13" y="281.80" font-size="18.6" letter-spacing="0.55" fill="#1a1a1a" stroke="#1a1a1a" stroke-width="0.3">110.7M</text>
<text x="1680.30" y="282.60" font-size="18.6" text-anchor="end" fill="#1a1a1a" stroke="#1a1a1a" stroke-width="0.3">Es</text>
<line x1="1684.9" x2="1688.4" y1="276.00" y2="276.00" stroke="#333" stroke-width="1.1"/>
<rect x="1688.4" y="310.85" width="116.55" height="29.8" fill="#9DB3A3"/>
<text x="1805.35" y="331.55" font-size="18.6" letter-spacing="0.55" fill="#1a1a1a" stroke="#1a1a1a" stroke-width="0.3">78.88M</text>
<text x="1680.30" y="332.35" font-size="18.6" text-anchor="end" fill="#1a1a1a" stroke="#1a1a1a" stroke-width="0.3">It</text>
<line x1="1684.9" x2="1688.4" y1="325.75" y2="325.75" stroke="#333" stroke-width="1.1"/>
<rect x="1688.4" y="360.60" width="113.77" height="29.8" fill="#999999"/>
<text x="1802.57" y="381.30" font-size="18.6" letter-spacing="0.55" fill="#1a1a1a" stroke="#1a1a1a" stroke-width="0.3">74.8M</text>
<text x="1680.30" y="382.10" font-size="18.6" text-anchor="end" fill="#1a1a1a" stroke="#1a1a1a" stroke-width="0.3">De</text>
<line x1="1684.9" x2="1688.4" y1="375.50" y2="375.50" stroke="#333" stroke-width="1.1"/>
<rect x="1688.4" y="410.35" width="99.14" height="29.8" fill="#9DB3A3"/>
<text x="1787.94" y="431.05" font-size="18.6" letter-spacing="0.55" fill="#1a1a1a" stroke="#1a1a1a" stroke-width="0.3">56.6M</text>
<text x="1680.30" y="431.85" font-size="18.6" text-anchor="end" fill="#1a1a1a" stroke="#1a1a1a" stroke-width="0.3">Pt</text>
<line x1="1684.9" x2="1688.4" y1="425.25" y2="425.25" stroke="#333" stroke-width="1.1"/>
<rect x="1688.4" y="460.10" width="85.81" height="29.8" fill="#C4A48F"/>
<text x="1774.61" y="480.80" font-size="18.6" letter-spacing="0.55" fill="#1a1a1a" stroke="#1a1a1a" stroke-width="0.3">43.9M</text>
<text x="1680.30" y="481.60" font-size="18.6" text-anchor="end" fill="#1a1a1a" stroke="#1a1a1a" stroke-width="0.3">Hi</text>
<line x1="1684.9" x2="1688.4" y1="475.00" y2="475.00" stroke="#333" stroke-width="1.1"/>
<rect x="1688.4" y="509.85" width="74.53" height="29.8" fill="#9CA6BC"/>
<text x="1763.33" y="530.55" font-size="18.6" letter-spacing="0.55" fill="#1a1a1a" stroke="#1a1a1a" stroke-width="0.3">35.41M</text>
<text x="1680.30" y="531.35" font-size="18.6" text-anchor="end" fill="#1a1a1a" stroke="#1a1a1a" stroke-width="0.3">Ko</text>
<line x1="1684.9" x2="1688.4" y1="524.75" y2="524.75" stroke="#333" stroke-width="1.1"/>
<rect x="1688.4" y="559.60" width="74.07" height="29.8" fill="#9CA6B4"/>
<text x="1762.87" y="580.30" font-size="18.6" letter-spacing="0.55" fill="#1a1a1a" stroke="#1a1a1a" stroke-width="0.3">35.1M</text>
<text x="1680.30" y="581.10" font-size="18.6" text-anchor="end" fill="#1a1a1a" stroke="#1a1a1a" stroke-width="0.3">Fr</text>
<line x1="1684.9" x2="1688.4" y1="574.50" y2="574.50" stroke="#333" stroke-width="1.1"/>
<rect x="1688.4" y="609.35" width="64.24" height="29.8" fill="#9DB3A3"/>
<text x="1753.04" y="630.05" font-size="18.6" letter-spacing="0.55" fill="#1a1a1a" stroke="#1a1a1a" stroke-width="0.3">29.1M</text>
<text x="1680.30" y="630.85" font-size="18.6" text-anchor="end" fill="#1a1a1a" stroke="#1a1a1a" stroke-width="0.3">Ar</text>
<line x1="1684.9" x2="1688.4" y1="624.25" y2="624.25" stroke="#333" stroke-width="1.1"/>
<rect x="1688.4" y="659.10" width="45.09" height="29.8" fill="#B89AA2"/>
<text x="1733.89" y="679.80" font-size="18.6" letter-spacing="0.55" fill="#1a1a1a" stroke="#1a1a1a" stroke-width="0.3">20.2M</text>
<text x="1680.30" y="680.60" font-size="18.6" text-anchor="end" fill="#1a1a1a" stroke="#1a1a1a" stroke-width="0.3">Ja</text>
<line x1="1684.9" x2="1688.4" y1="674.00" y2="674.00" stroke="#333" stroke-width="1.1"/>
<line x1="1696.60" x2="1696.60" y1="83.2" y2="717.5" stroke="#d0d0d0" stroke-opacity="0.55" stroke-width="1.1"/>
<text x="1683.40" y="737.9" font-size="18.4" letter-spacing="0.5" fill="#1a1a1a" stroke="#1a1a1a" stroke-width="0.3">10<tspan font-size="13" dy="-7.5">1</tspan></text>
<line x1="1817.40" x2="1817.40" y1="83.2" y2="717.5" stroke="#d0d0d0" stroke-opacity="0.55" stroke-width="1.1"/>
<text x="1804.20" y="737.9" font-size="18.4" letter-spacing="0.5" fill="#1a1a1a" stroke="#1a1a1a" stroke-width="0.3">10<tspan font-size="13" dy="-7.5">2</tspan></text>
<line x1="1938.20" x2="1938.20" y1="83.2" y2="717.5" stroke="#d0d0d0" stroke-opacity="0.55" stroke-width="1.1"/>
<text x="1925.00" y="737.9" font-size="18.4" letter-spacing="0.5" fill="#1a1a1a" stroke="#1a1a1a" stroke-width="0.3">10<tspan font-size="13" dy="-7.5">3</tspan></text>
<rect x="1688.4" y="83.2" width="343.39999999999986" height="634.3" fill="none" stroke="#d9d9d9" stroke-width="1" stroke-dasharray="3,1.5"/>
<text x="1859.6" y="762.8" font-size="22.4" letter-spacing="0.45" text-anchor="middle" fill="#1a1a1a" stroke="#1a1a1a" stroke-width="0.3">Size (M, Log Scale)</text>
<text transform="translate(1650.8,402.5) rotate(-90)" font-size="22.9" letter-spacing="0.5" text-anchor="middle" fill="#1a1a1a" stroke="#1a1a1a" stroke-width="0.3">Language</text>
<text x="404.4" y="865.6" style="font-family:'Liberation Serif',serif" font-size="51.3" fill="#000" stroke="#000" stroke-width="0.35">Figure</text>
<text x="556.2" y="865.6" style="font-family:'Liberation Serif',serif" font-size="51.3" fill="#000" stroke="#000" stroke-width="0.35">1:</text>
<text x="609.2" y="865.6" style="font-family:'Liberation Serif',serif" font-size="51.3" fill="#000" stroke="#000" stroke-width="0.35">Taxonomy</text>
<text x="844.3" y="865.6" style="font-family:'Liberation Serif',serif" font-size="51.3" fill="#000" stroke="#000" stroke-width="0.35">and</text>
<text x="932.2" y="865.6" style="font-family:'Liberation Serif',serif" font-size="51.3" fill="#000" stroke="#000" stroke-width="0.35">Token</text>
<text x="1074.1" y="865.6" style="font-family:'Liberation Serif',serif" font-size="51.3" fill="#000" stroke="#000" stroke-width="0.35">statistics</text>
<text x="1264.7" y="865.6" style="font-family:'Liberation Serif',serif" font-size="51.3" fill="#000" stroke="#000" stroke-width="0.35">of</text>
<text x="1322.2" y="865.6" style="font-family:'Liberation Serif',serif" font-size="51.3" fill="#000" stroke="#000" stroke-width="0.35">Training</text>
<text x="1512.8" y="865.6" style="font-family:'Liberation Serif',serif" font-size="51.3" fill="#000" stroke="#000" stroke-width="0.35">Dataset.</text>
</svg>
</body></html>
